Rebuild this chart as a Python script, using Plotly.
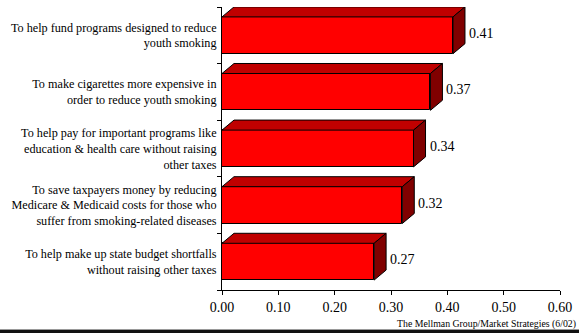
import plotly.graph_objects as go

categories = [
    "To help fund programs designed to reduce<br>youth smoking",
    "To make cigarettes more expensive in<br>order to reduce youth smoking",
    "To help pay for important programs like<br>education & health care without raising<br>other taxes",
    "To save taxpayers money by reducing<br>Medicare & Medicaid costs for those who<br>suffer from smoking-related diseases",
    "To help make up state budget shortfalls<br>without raising other taxes",
]
values = [0.41, 0.37, 0.34, 0.32, 0.27]
x_ticks = [0.0, 0.1, 0.2, 0.3, 0.4, 0.5, 0.6]
x_tick_labels = ["0.00", "0.10", "0.20", "0.30", "0.40", "0.50", "0.60"]
source = "The Mellman Group/Market Strategies (6/02)"

FONT = "Liberation Serif"
BAR_W = 0.65      # bar thickness in category units
DX = 0.0213       # 3D depth in x data units
DY = 0.177        # 3D depth in category units
FRONT = "#FF0000"
TOP = "#C00000"
SIDE = "#800000"

pos = list(range(len(categories)))
fig = go.Figure()

# 3D top and side faces
for i, v in zip(pos, values):
    yt = i - BAR_W / 2
    yb = i + BAR_W / 2
    fig.add_trace(go.Scatter(
        x=[0, v, v + DX, DX, 0], y=[yt, yt, yt - DY, yt - DY, yt],
        fill="toself", fillcolor=TOP, mode="lines",
        line=dict(color="black", width=1), hoverinfo="skip",
        showlegend=False, cliponaxis=False))
    fig.add_trace(go.Scatter(
        x=[v, v + DX, v + DX, v, v], y=[yt, yt - DY, yb - DY, yb, yt],
        fill="toself", fillcolor=SIDE, mode="lines",
        line=dict(color="black", width=1), hoverinfo="skip",
        showlegend=False, cliponaxis=False))

# Front faces
fig.add_trace(go.Bar(
    x=values, y=pos, orientation="h", width=BAR_W,
    marker=dict(color=FRONT, line=dict(color="black", width=1)),
    showlegend=False, hoverinfo="skip"))

annotations = []
for i, v in zip(pos, values):
    annotations.append(dict(
        x=v + DX, y=i, xref="x", yref="y", text=f"{v:.2f}",
        showarrow=False, xanchor="left", yanchor="middle",
        xshift=2, yshift=2, font=dict(family=FONT, size=14, color="black")))

annotations.append(dict(
    x=(577.5 - 222) / 338, y=(290 - 324) / 283, xref="paper", yref="paper",
    text=source, showarrow=False, xanchor="right", yanchor="middle",
    font=dict(family=FONT, size=9.8, color="black")))

shapes = [
    dict(type="rect", xref="paper", yref="paper",
         x0=-222 / 338, x1=(579 - 222) / 338,
         y0=(290 - 330) / 283, y1=(290 - 334) / 283,
         fillcolor="#111111", line=dict(width=0)),
    dict(type="line", xref="paper", yref="paper",
         x0=-222 / 338, x1=(579 - 222) / 338,
         y0=(290 - 329.5) / 283, y1=(290 - 329.5) / 283,
         line=dict(color="#999999", width=1)),
]

fig.update_layout(
    width=579, height=333,
    margin=dict(l=222, r=19, t=7, b=43),
    paper_bgcolor="white", plot_bgcolor="white",
    bargap=0,
    font=dict(family=FONT),
    annotations=annotations, shapes=shapes,
    xaxis=dict(
        range=[0, 0.6], tickvals=x_ticks, ticktext=x_tick_labels,
        showgrid=False, zeroline=False, showline=True, linecolor="black",
        linewidth=1, ticks="outside", ticklen=4, tickcolor="black",
        tickfont=dict(family=FONT, size=14, color="black"),
    ),
    yaxis=dict(
        range=[4.5, -0.5], tickvals=pos, ticktext=categories,
        showgrid=False, zeroline=False, showline=True, linecolor="black",
        linewidth=1, ticks="", ticklabelstandoff=2,
        minor=dict(tickvals=[-0.5, 0.5, 1.5, 2.5, 3.5, 4.5], ticks="outside",
                   ticklen=4, tickcolor="black", showgrid=False),
        tickfont=dict(family=FONT, size=12.2, color="black"),
    ),
)

fig.write_html("out.html")
